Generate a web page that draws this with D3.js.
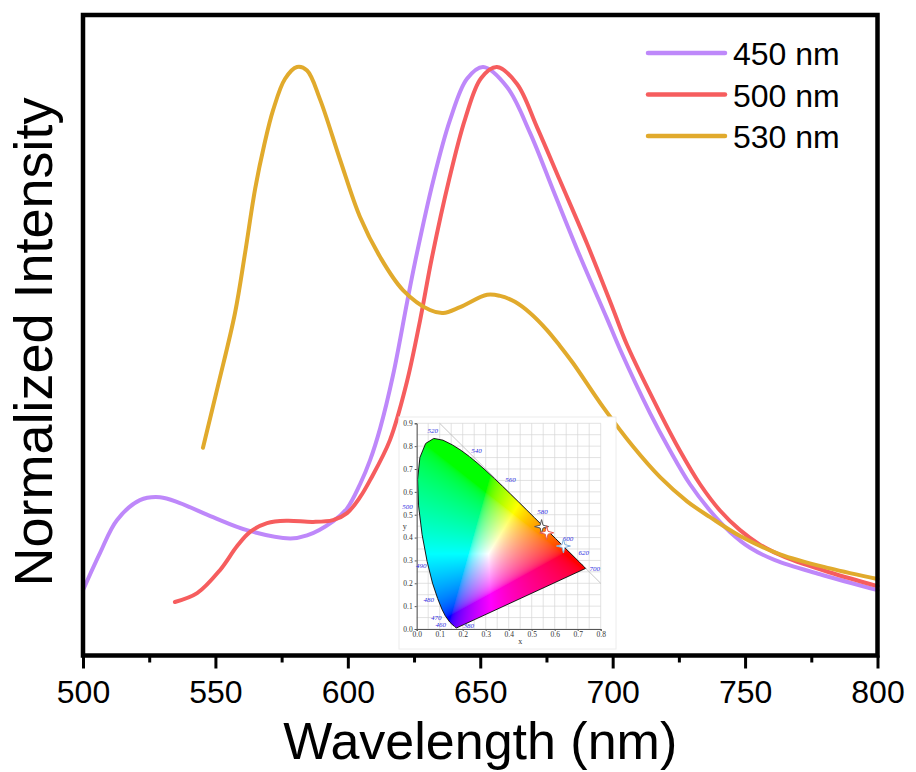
<html>

<body>
    <svg id='viz'></svg>
</body>
<style>
    body {
        margin: 0;
        background: #fff;
    }

    svg {
        display: block;
    }

    text {
        font-family: "Liberation Sans", Arial, sans-serif;
    }

    .inset text {
        font-family: "Liberation Serif", "Times New Roman", serif;
    }
</style>
<script src='https://d3js.org/d3.v7.min.js'></script>
<script>
    var width = 916;
    var height = 772;

    // emission spectra (wavelength in nm, normalized intensity)
    var wl450 = [500, 506.4, 512.8, 521.5, 529.1, 536.6, 549.1, 561.9, 578.2, 584.6, 594.4, 599.7, 604.6, 608.4, 612.2, 617.1, 622.4, 625.4, 632.2, 638.6, 645.0, 651.1, 660.1, 668.8, 677.5, 687.7, 697.9, 702.8, 714.1, 721.7, 729.2, 736.8, 744.3, 751.9, 761.3, 778.3, 800];
    var int450 = [0.111, 0.174, 0.230, 0.264, 0.269, 0.259, 0.235, 0.213, 0.199, 0.204, 0.228, 0.250, 0.291, 0.332, 0.386, 0.477, 0.601, 0.669, 0.806, 0.910, 0.980, 1.0, 0.966, 0.888, 0.791, 0.678, 0.572, 0.520, 0.412, 0.348, 0.291, 0.246, 0.210, 0.183, 0.162, 0.138, 0.111];

    var wl500 = [534.7, 543.1, 551.7, 558.2, 563.1, 569.5, 577.0, 586.9, 594.4, 599.7, 604.6, 608.4, 615.9, 622.2, 627.3, 631.7, 638.2, 644.3, 650.3, 656.3, 663.9, 671.5, 680.1, 690.3, 700.2, 705.4, 717.9, 725.4, 733.0, 740.6, 748.1, 755.7, 765.1, 782.1, 800];
    var int500 = [0.091, 0.106, 0.145, 0.186, 0.210, 0.225, 0.229, 0.227, 0.230, 0.242, 0.269, 0.298, 0.366, 0.463, 0.570, 0.675, 0.808, 0.912, 0.981, 1.0, 0.971, 0.897, 0.807, 0.700, 0.588, 0.528, 0.412, 0.348, 0.291, 0.246, 0.213, 0.188, 0.167, 0.141, 0.118];

    var wl530 = [545.3, 551.0, 557.4, 561.2, 565.0, 568.4, 571.8, 576.3, 580.8, 584.6, 589.5, 597.1, 604.6, 612.2, 620.8, 631.0, 636.0, 642.4, 652.6, 657.5, 663.1, 668.8, 675.2, 680.1, 685.0, 696.4, 707.7, 717.9, 728.1, 736.8, 748.1, 763.2, 782.1, 800];
    var int530 = [0.353, 0.459, 0.582, 0.684, 0.793, 0.867, 0.927, 0.980, 1.0, 0.994, 0.945, 0.842, 0.745, 0.677, 0.621, 0.587, 0.582, 0.592, 0.613, 0.611, 0.601, 0.582, 0.553, 0.526, 0.497, 0.422, 0.355, 0.303, 0.262, 0.235, 0.203, 0.172, 0.148, 0.130];

    var seriesNames = ["450 nm", "500 nm", "530 nm"];
    var xTicks = [500, 550, 600, 650, 700, 750, 800];
    var xMinorTicks = [525, 575, 625, 675, 725, 775];

    // CIE 1931 spectral locus (nm, x, y)
    var locusNm = [380, 400, 420, 440, 450, 460, 470, 475, 480, 485, 490, 495, 500, 505, 510, 515, 520, 525, 530, 535, 540, 545, 550, 555, 560, 565, 570, 575, 580, 585, 590, 595, 600, 610, 620, 630, 640, 650, 660, 680, 700];
    var locusX = [0.1741, 0.1733, 0.1714, 0.1644, 0.1566, 0.1440, 0.1241, 0.1096, 0.0913, 0.0687, 0.0454, 0.0235, 0.0082, 0.0039, 0.0139, 0.0389, 0.0743, 0.1142, 0.1547, 0.1929, 0.2296, 0.2658, 0.3016, 0.3373, 0.3731, 0.4087, 0.4441, 0.4788, 0.5125, 0.5448, 0.5752, 0.6029, 0.6270, 0.6658, 0.6915, 0.7079, 0.7190, 0.7260, 0.7300, 0.7334, 0.7347];
    var locusY = [0.0050, 0.0048, 0.0051, 0.0109, 0.0177, 0.0297, 0.0578, 0.0868, 0.1327, 0.2007, 0.2950, 0.4127, 0.5384, 0.6548, 0.7502, 0.8120, 0.8338, 0.8262, 0.8059, 0.7816, 0.7543, 0.7243, 0.6923, 0.6589, 0.6245, 0.5896, 0.5547, 0.5202, 0.4866, 0.4544, 0.4242, 0.3965, 0.3725, 0.3340, 0.3083, 0.2920, 0.2809, 0.2740, 0.2700, 0.2666, 0.2653];
    var locusLabels = [380, 460, 470, 480, 490, 500, 520, 540, 560, 580, 600, 620, 700];

    // chromaticity of the three emissions
    var cieX = [0.543, 0.565, 0.638];
    var cieY = [0.448, 0.421, 0.363];

    var colors = ["#BE88FA", "#F65D5E", "#E1AA2C"];
    var starStroke = ["#555555", "#E8584F", "#7FB2DE"];

    var svg = d3.select("#viz").attr("width", width).attr("height", height);

    var x = d3.scaleLinear().domain([500, 800]).range([83, 877.5]);
    var y = d3.scaleLinear().domain([0, 1]).range([655.5, 67]);

    var series = [
        { name: seriesNames[0], wl: wl450, v: int450 },
        { name: seriesNames[1], wl: wl500, v: int500 },
        { name: seriesNames[2], wl: wl530, v: int530 }
    ];

    var line = d3.line()
        .x(function (d) { return x(d[0]); })
        .y(function (d) { return y(d[1]); })
        .curve(d3.curveCatmullRom.alpha(0.5));

    svg.append("g").attr("class", "curves")
        .selectAll("path")
        .data(series)
        .enter()
        .append("path")
        .attr("fill", "none")
        .attr("stroke", function (d, i) { return colors[i]; })
        .attr("stroke-width", 4)
        .attr("stroke-linejoin", "round")
        .attr("stroke-linecap", "round")
        .attr("d", function (d) {
            return line(d.wl.map(function (w, i) { return [w, d.v[i]]; }));
        });

    // ---- CIE inset ----
    var cx = d3.scaleLinear().domain([0, 0.8]).range([416.7, 600.7]);
    var cy = d3.scaleLinear().domain([0, 0.9]).range([629, 423.3]);
    var inset = svg.append("g").attr("class", "inset");

    inset.append("rect")
        .attr("x", 399).attr("y", 417)
        .attr("width", 217).attr("height", 232)
        .attr("fill", "#fff")
        .attr("stroke", "#ececec")
        .attr("stroke-width", 1);

    var grid = d3.range(0, 0.8001, 0.05);
    var gridY = d3.range(0, 0.9001, 0.05);
    inset.append("g").selectAll("line.gx").data(grid).enter().append("line")
        .attr("x1", function (d) { return cx(d); }).attr("x2", function (d) { return cx(d); })
        .attr("y1", cy(0)).attr("y2", cy(0.9))
        .attr("stroke", "#d6d6d6").attr("stroke-width", 0.7);
    inset.append("g").selectAll("line.gy").data(gridY).enter().append("line")
        .attr("y1", function (d) { return cy(d); }).attr("y2", function (d) { return cy(d); })
        .attr("x1", cx(0)).attr("x2", cx(0.8))
        .attr("stroke", "#d6d6d6").attr("stroke-width", 0.7);

    // x + y = 1 line
    inset.append("line")
        .attr("x1", cx(0.1)).attr("y1", cy(0.9))
        .attr("x2", cx(0.8)).attr("y2", cy(0.2))
        .attr("stroke", "#b8b8b8").attr("stroke-width", 0.8);

    var locus = locusNm.map(function (n, i) { return [locusX[i], locusY[i]]; });

    // colour the gamut pixel by pixel
    var x0 = Math.floor(cx(0)), y0 = Math.floor(cy(0.9));
    var cw = Math.ceil(cx(0.8)) - x0, ch = Math.ceil(cy(0)) - y0;
    var canvas = document.createElement("canvas");
    canvas.width = cw;
    canvas.height = ch;
    var ctx = canvas.getContext("2d");
    var img = ctx.createImageData(cw, ch);
    function gam(c) {
        return c <= 0.0031308 ? 12.92 * c : 1.055 * Math.pow(c, 1 / 2.4) - 0.055;
    }
    for (var j = 0; j < ch; j++) {
        for (var i = 0; i < cw; i++) {
            var px = cx.invert(x0 + i + 0.5), py = cy.invert(y0 + j + 0.5);
            if (!d3.polygonContains(locus, [px, py])) continue;
            var X = px / py, Y = 1, Z = (1 - px - py) / py;
            var r = 3.2406 * X - 1.5372 * Y - 0.4986 * Z;
            var g = -0.9689 * X + 1.8758 * Y + 0.0415 * Z;
            var b = 0.0557 * X - 0.2040 * Y + 1.0570 * Z;
            r = Math.max(r, 0); g = Math.max(g, 0); b = Math.max(b, 0);
            var m = Math.max(r, g, b);
            var k = (j * cw + i) * 4;
            img.data[k] = Math.round(255 * gam(r / m));
            img.data[k + 1] = Math.round(255 * gam(g / m));
            img.data[k + 2] = Math.round(255 * gam(b / m));
            img.data[k + 3] = 255;
        }
    }
    ctx.putImageData(img, 0, 0);
    inset.append("image")
        .attr("x", x0).attr("y", y0)
        .attr("width", cw).attr("height", ch)
        .attr("href", canvas.toDataURL());

    inset.append("path")
        .attr("d", d3.line().x(function (d) { return cx(d[0]); }).y(function (d) { return cy(d[1]); })(locus) + "Z")
        .attr("fill", "none")
        .attr("stroke", "#1a1a1a")
        .attr("stroke-width", 1);

    // axes of the inset
    var iax = inset.append("g").attr("transform", "translate(" + cx(0) + ",0)")
        .call(d3.axisLeft(cy).tickValues(d3.range(0, 0.9001, 0.1)).tickFormat(d3.format(".1f")).tickSize(2).tickPadding(2));
    var ibx = inset.append("g").attr("transform", "translate(0," + cy(0) + ")")
        .call(d3.axisBottom(cx).tickValues(d3.range(0, 0.8001, 0.1)).tickFormat(d3.format(".1f")).tickSize(2).tickPadding(1));
    [iax, ibx].forEach(function (a) {
        a.selectAll("text").attr("font-size", 7.5).attr("fill", "#333");
        a.selectAll("line").attr("stroke", "#555");
        a.select(".domain").attr("stroke", "#555");
    });
    inset.append("text").attr("x", cx(0.45)).attr("y", cy(0) + 15)
        .attr("text-anchor", "middle").attr("font-size", 8).attr("fill", "#333").text("x");
    inset.append("text").attr("x", cx(0) - 12).attr("y", cy(0.45) + 3)
        .attr("text-anchor", "middle").attr("font-size", 8).attr("fill", "#333").text("y");

    // wavelength labels round the locus
    var nudge = {
        380: [12, 0], 460: [-9, 5], 470: [-9, 4], 480: [-9, 3], 490: [-6, 6], 500: [-11, 3],
        520: [-1, -5], 540: [7, -4], 560: [8, -4], 580: [8, -4], 600: [7, -3], 620: [8, -4], 700: [9, 3]
    };
    inset.append("g").selectAll("text")
        .data(locusLabels)
        .enter()
        .append("text")
        .attr("x", function (d) { var i = locusNm.indexOf(d); return cx(locusX[i]) + nudge[d][0]; })
        .attr("y", function (d) { var i = locusNm.indexOf(d); return cy(locusY[i]) + nudge[d][1]; })
        .attr("text-anchor", "middle")
        .attr("font-size", 7)
        .attr("font-style", "italic")
        .attr("fill", "#2B2BE0")
        .text(function (d) { return d; });

    function star(R, r) {
        var pts = [];
        for (var i = 0; i < 8; i++) {
            var a = i * Math.PI / 4 - Math.PI / 2;
            var rr = i % 2 == 0 ? R : r;
            pts.push([rr * Math.cos(a), rr * Math.sin(a)]);
        }
        return "M" + pts.join("L") + "Z";
    }

    inset.append("g").selectAll("path")
        .data(cieX)
        .enter()
        .append("path")
        .attr("d", star(7, 2))
        .attr("transform", function (d, i) { return "translate(" + cx(d) + "," + cy(cieY[i]) + ")"; })
        .attr("fill", "#fff")
        .attr("stroke", function (d, i) { return starStroke[i]; })
        .attr("stroke-width", 1);

    // ---- frame and axes ----
    svg.append("rect")
        .attr("x", 83).attr("y", 15)
        .attr("width", 877.5 - 83).attr("height", 655.5 - 15)
        .attr("fill", "none")
        .attr("stroke", "#000")
        .attr("stroke-width", 4.5);

    var xAxis = svg.append("g")
        .attr("transform", "translate(0,655.5)")
        .call(d3.axisBottom(x).tickValues(xTicks).tickSize(13).tickPadding(12).tickFormat(d3.format("d")));
    xAxis.select(".domain").remove();
    xAxis.selectAll("line").attr("stroke", "#000").attr("stroke-width", 3);
    xAxis.selectAll("text").attr("font-size", 32).attr("fill", "#000")
        .attr("font-family", "'Liberation Sans', Arial, sans-serif");

    var xMinor = svg.append("g")
        .attr("transform", "translate(0,655.5)")
        .call(d3.axisBottom(x).tickValues(xMinorTicks).tickSize(7).tickFormat(""));
    xMinor.select(".domain").remove();
    xMinor.selectAll("line").attr("stroke", "#000").attr("stroke-width", 3);

    svg.append("text")
        .attr("x", (83 + 877.5) / 2)
        .attr("y", 759)
        .attr("text-anchor", "middle")
        .attr("font-size", 52)
        .text("Wavelength (nm)");

    svg.append("text")
        .attr("transform", "translate(52,342) rotate(-90)")
        .attr("text-anchor", "middle")
        .attr("font-size", 54)
        .text("Normalized Intensity");

    // ---- legend ----
    var legend = svg.append("g").attr("class", "legend")
        .selectAll("g")
        .data(seriesNames)
        .enter()
        .append("g")
        .attr("transform", function (d, i) { return "translate(648," + (53 + i * 41.5) + ")"; });
    legend.append("line")
        .attr("x1", 0).attr("x2", 77)
        .attr("stroke", function (d, i) { return colors[i]; })
        .attr("stroke-width", 4.5)
        .attr("stroke-linecap", "round");
    legend.append("text")
        .attr("x", 85).attr("y", 12)
        .attr("font-size", 32)
        .text(function (d) { return d; });
</script>

</html>
